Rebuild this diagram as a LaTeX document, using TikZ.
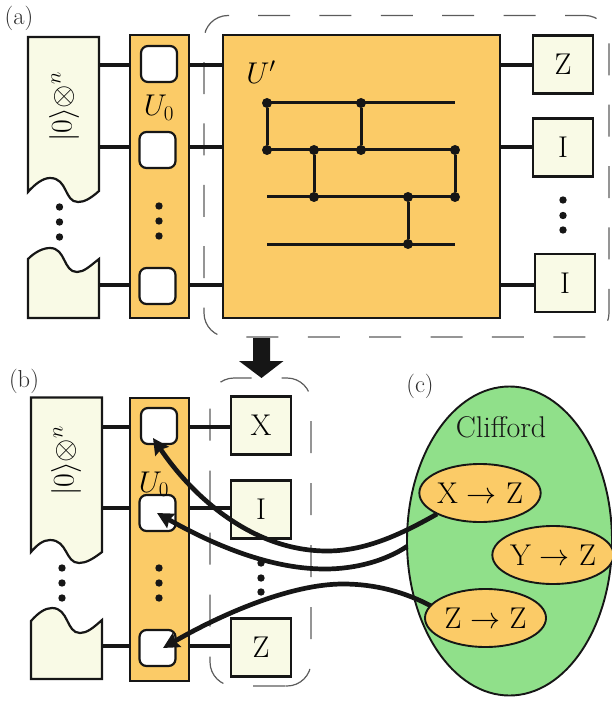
\RequirePackage{fix-cm}
\documentclass[tikz,border=0pt]{standalone}
\usepackage{fontspec}
\usetikzlibrary{arrows.meta,shapes.geometric,calc}
\definecolor{ink}{HTML}{161616}
\definecolor{orangefill}{HTML}{FBCB67}
\definecolor{creamfill}{HTML}{F9FAE6}
\definecolor{greenfill}{HTML}{90E08A}
\tikzset{
  x=1pt,y=-1pt,
  bigtext/.style={font=\fontsize{30}{33}\selectfont},
  panellabel/.style={font=\fontsize{24.5}{27}\selectfont,text=ink!90,inner sep=0pt},
  wireline/.style={draw=ink,line width=3.2pt},
  circuitline/.style={draw=ink,line width=3pt},
  paperbox/.style={draw=ink,fill=creamfill,line width=2.2pt,line join=miter},
  barbox/.style={draw=ink,fill=orangefill,line width=2.2pt,minimum width=59pt,inner sep=0pt,outer sep=0pt},
  slotbox/.style={draw=ink,fill=white,line width=2.2pt,rounded corners=7pt,minimum width=36pt,minimum height=36pt,inner sep=0pt,outer sep=0pt},
  paulibox/.style={bigtext,draw=ink,fill=creamfill,line width=2.2pt,minimum width=60pt,minimum height=58pt,inner sep=0pt,outer sep=0pt},
  dotnode/.style={circle,fill=ink,inner sep=0pt,minimum size=7.4pt},
  gatenode/.style={circle,fill=ink,inner sep=0pt,minimum size=10pt},
  boundaryline/.style={draw=ink!70,line width=1.2pt,dash pattern=on 32pt off 29.4pt,rounded corners=24pt},
  boundarylineb/.style={boundaryline,dash pattern=on 32pt off 30pt},
  ruleoval/.style={bigtext,ellipse,draw=ink,fill=orangefill,line width=1.9pt,inner sep=0pt,outer sep=0pt},
  linkline/.style={draw=ink,line width=4.7pt,-{Stealth[length=16pt,width=16pt,inset=2pt]}},
}
\begin{document}
\begin{tikzpicture}
\useasboundingbox (0,0) rectangle (611,703);
% ---------------- panel (a)
\node[panellabel,anchor=center] (la) at (19,18) {(a)};
\path[boundaryline] (258,15.5) -- (609,15.5) -- (609,337) -- (204,337) -- (204,15.5) -- (258,15.5);
\draw[paperbox] (28,37) -- (99,37) -- (99,191) .. controls (90,199) and (84,202) .. (78,202)
  .. controls (64,202) and (68,178) .. (50,178) .. controls (43,178) and (35,184) .. (28,192) -- cycle;
\draw[paperbox] (28,318) -- (99,318) -- (99,259) .. controls (90,266) and (84,272) .. (77,272)
  .. controls (63,272) and (66,248) .. (50,248) .. controls (43,248) and (35,252) .. (28,259) -- cycle;
\coordinate (pa1) at (99,65);
\coordinate (pa2) at (99,147);
\coordinate (pa3) at (99,285);
\node[bigtext,rotate=90] (ketA) at (64,107) {$|0\rangle{\otimes}^{n}$};
\node[dotnode] (pad1) at (59.5,207) {};
\node[dotnode] (pad2) at (59.5,222) {};
\node[dotnode] (pad3) at (59.5,237) {};
\node[barbox,minimum height=283pt] (ua) at (159.5,176.5) {};
\node[barbox,minimum height=283pt,minimum width=277pt] (up) at (361.5,176.5) {};
\node[paulibox] (z1) at (563,64.5) {Z};
\node[paulibox] (i1) at (563,147.5) {I};
\node[paulibox] (i2) at (565,283) {I};
\foreach \p/\r in {pa1/ua,pa2/ua,pa3/ua} \draw[wireline] (\p) -- (\p -| \r.west);
\draw[wireline] (pa1 -| ua.east) -- (pa1 -| up.west);
\draw[wireline] (pa2 -| ua.east) -- (pa2 -| up.west);
\draw[wireline] (pa3 -| ua.east) -- (pa3 -| up.west);
\draw[wireline] (pa1 -| up.east) -- (pa1 -| z1.west);
\draw[wireline] (pa2 -| up.east) -- (pa2 -| i1.west);
\draw[wireline] (pa3 -| up.east) -- (pa3 -| i2.west);
\node[slotbox] (sa1) at (159,64) {};
\node[slotbox] (sa2) at (157.5,150) {};
\node[slotbox] (sa3) at (157.5,286) {};
\node[bigtext] (u0a) at (159,108) {$U_0$};
\node[dotnode] (uad1) at (159,206) {};
\node[dotnode] (uad2) at (159,221) {};
\node[dotnode] (uad3) at (159,236) {};
\node[dotnode] (rd1) at (563,200) {};
\node[dotnode] (rd2) at (563,215.5) {};
\node[dotnode] (rd3) at (563,230) {};
\node[bigtext] (upl) at (261,72) {$U'$};
% circuit
\coordinate (w1s) at (267,103); \coordinate (w1e) at (455,103);
\coordinate (w2s) at (267,150); \coordinate (w2e) at (455,150);
\coordinate (w3s) at (267,197); \coordinate (w3e) at (455,197);
\coordinate (w4s) at (267,244); \coordinate (w4e) at (455,244);
\draw[circuitline] (w1s) -- (w1e);
\draw[circuitline] (w2s) -- (w2e);
\draw[circuitline] (w3s) -- (w3e);
\draw[circuitline] (w4s) -- (w4e);
\node[gatenode] (g1a) at (267,103) {}; \node[gatenode] (g1b) at (267,150) {};
\node[gatenode] (g2a) at (361,103) {}; \node[gatenode] (g2b) at (361,150) {};
\node[gatenode] (g3a) at (314,150) {}; \node[gatenode] (g3b) at (314,197) {};
\node[gatenode] (g4a) at (455,150) {}; \node[gatenode] (g4b) at (455,197) {};
\node[gatenode] (g5a) at (408,197) {}; \node[gatenode] (g5b) at (408,244) {};
\draw[circuitline] (g1a) -- (g1b);
\draw[circuitline] (g2a) -- (g2b);
\draw[circuitline] (g3a) -- (g3b);
\draw[circuitline] (g4a) -- (g4b);
\draw[circuitline] (g5a) -- (g5b);
% big arrow
\fill[ink] (253,338) -- (270,338) -- (270,361) -- (283.5,361) -- (261.5,378) -- (239,361) -- (253,361) -- cycle;
% ---------------- panel (b)
\node[panellabel,anchor=center] (lb) at (24,381) {(b)};
\path[boundarylineb] (285,686) -- (210,686) -- (210,378) -- (311,378) -- (311,686) -- (285,686);
\draw[paperbox] (31,397.5) -- (102,397.5) -- (102,552) .. controls (93,559) and (86,563) .. (79,563)
  .. controls (65,563) and (68,540) .. (50,540) .. controls (43,540) and (37,545) .. (31,552) -- cycle;
\draw[paperbox] (31,679) -- (102,679) -- (102,620) .. controls (93,628) and (87,633) .. (80,633)
  .. controls (66,633) and (69,608) .. (52,608) .. controls (45,608) and (38,613) .. (31,621) -- cycle;
\coordinate (pb1) at (102,427);
\coordinate (pb2) at (102,508);
\coordinate (pb3) at (102,646);
\node[bigtext,rotate=90] (ketB) at (66,461) {$|0\rangle{\otimes}^{n}$};
\node[dotnode] (pbd1) at (62,568) {};
\node[dotnode] (pbd2) at (62,583) {};
\node[dotnode] (pbd3) at (62,598) {};
\node[barbox,minimum height=283pt] (ub) at (159.5,539.5) {};
\node[paulibox] (xb) at (261,425.5) {X};
\node[paulibox] (ib) at (261,509.5) {I};
\node[paulibox] (zb) at (261,647.5) {Z};
\foreach \p in {pb1,pb2,pb3} \draw[wireline] (\p) -- (\p -| ub.west);
\draw[wireline] (pb1 -| ub.east) -- (pb1 -| xb.west);
\draw[wireline] (pb2 -| ub.east) -- (pb2 -| ib.west);
\draw[wireline] (pb3 -| ub.east) -- (pb3 -| zb.west);
\node[slotbox] (sb1) at (159,426) {};
\node[slotbox] (sb2) at (157.5,513) {};
\node[slotbox] (sb3) at (157.5,648) {};
\node[bigtext] (u0b) at (154,484) {$U_0$};
\node[dotnode] (ubd1) at (159,568) {};
\node[dotnode] (ubd2) at (159,583) {};
\node[dotnode] (ubd3) at (159,598) {};
\node[dotnode] (bd1) at (261,563) {};
\node[dotnode] (bd2) at (261,578) {};
\node[dotnode] (bd3) at (261,592) {};
% ---------------- panel (c)
\node[panellabel,anchor=center] (lc) at (420,386) {(c)};
\node[ellipse,draw=ink,fill=greenfill,line width=1.9pt,minimum width=205pt,minimum height=309pt,inner sep=0pt,outer sep=0pt] (cl) at (509.5,541) {};
\node[bigtext,text=ink] (cliff) at (501,427) {Clifford};
\coordinate (t1) at (153,438);
\coordinate (t2) at (157,513);
\coordinate (t3) at (163,648);
\draw[linkline] (437,514) .. controls (400,535) and (365,551) .. (327,551)
  .. controls (255,551) and (195,500) .. (t1);
\draw[linkline] (cl.183) .. controls (385,561) and (355,569) .. (325,569)
  .. controls (265,569) and (205,540) .. (t2);
\draw[linkline] (431,606) .. controls (405,592) and (375,584) .. (343,584)
  .. controls (290,584) and (220,615) .. (t3);
\node[ruleoval,minimum width=121pt,minimum height=58pt] (xz) at (480,493) {X $\rightarrow$ Z};
\node[ruleoval,minimum width=120pt,minimum height=58pt] (yz) at (553,555) {Y $\rightarrow$ Z};
\node[ruleoval,minimum width=121pt,minimum height=58pt] (zz) at (485.5,618) {Z $\rightarrow$ Z};
\end{tikzpicture}
\end{document}
